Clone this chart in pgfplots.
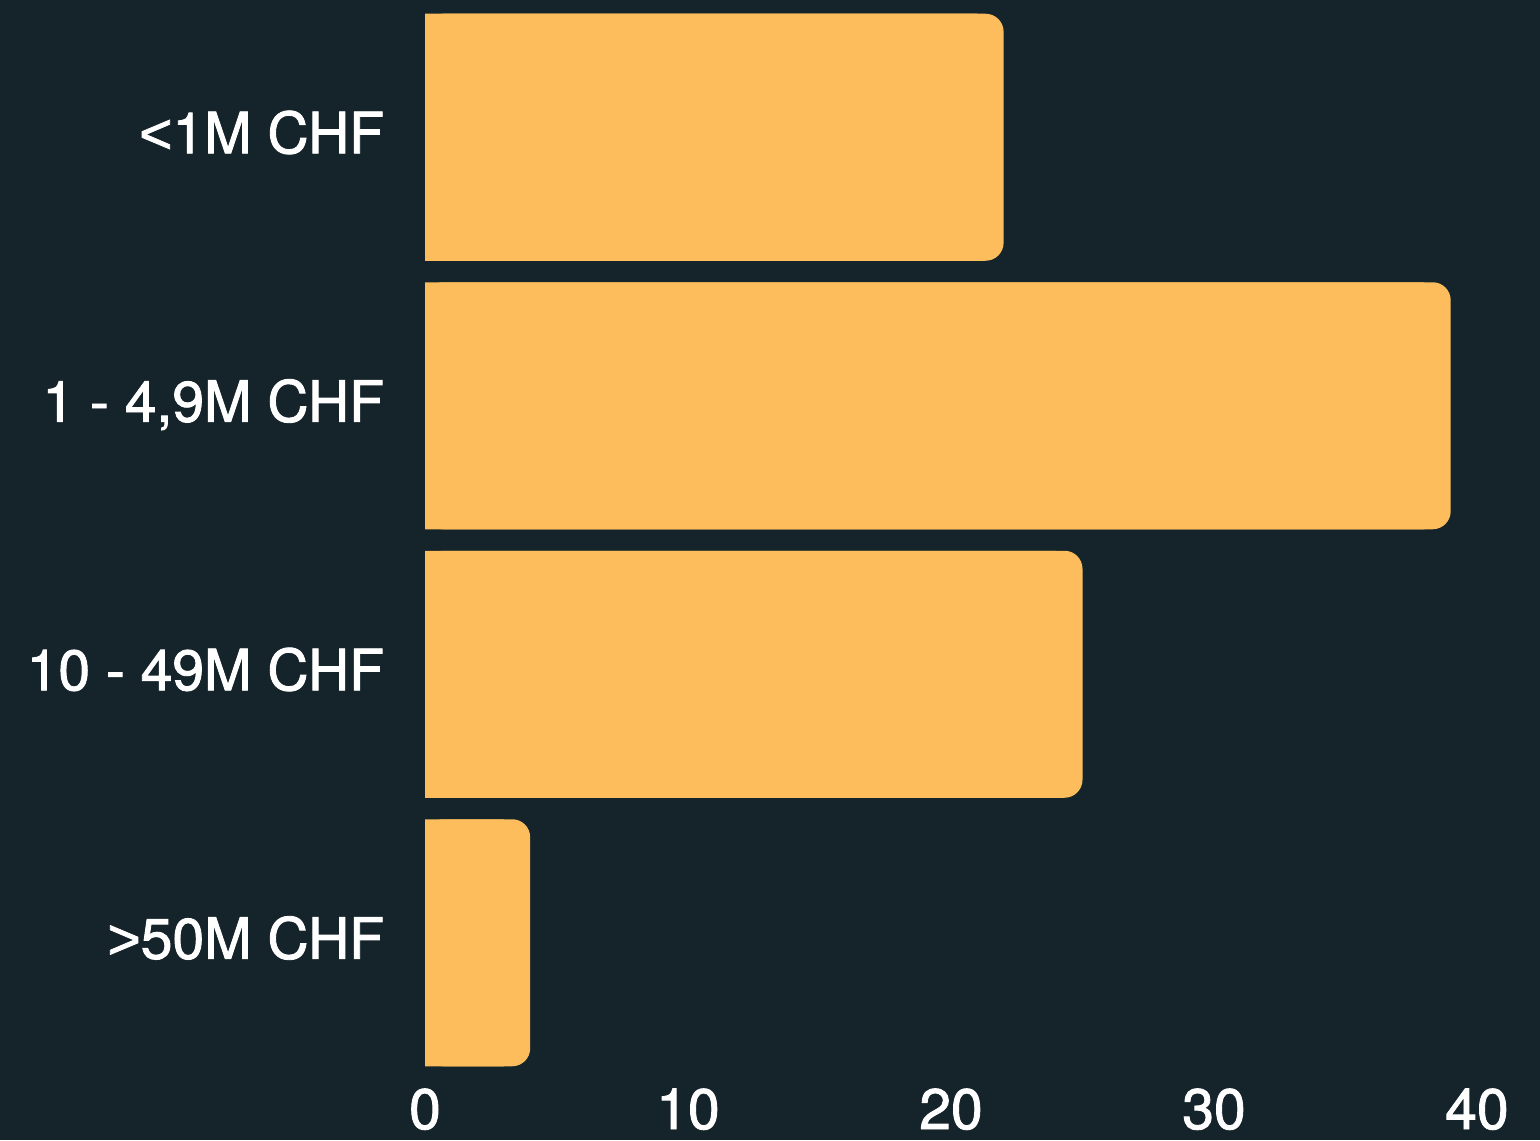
\documentclass[border=0pt]{standalone}
\usepackage{fontspec}
\setmainfont{TeX Gyre Heros}[FakeBold=1.5]
\newfontfamily\libsans{Liberation Sans}[FakeBold=1.5]
\usepackage{pgfplots}
\usepackage{pgfplotstable}
\pgfplotsset{compat=1.18}
\definecolor{bg}{HTML}{15242A}
\definecolor{barc}{HTML}{FDBD5C}
\pgfplotstableread{
idx v
0 22
1 39
2 25
3 4
}\datatable
\begin{document}
\begin{tikzpicture}
\path[use as bounding box] (0,0) rectangle (770pt,570pt);
\fill[bg] (0,0) rectangle (770pt,570pt);
\begin{axis}[
  at={(212.5pt,31.5pt)}, anchor=south west,
  width=526pt, height=537pt, scale only axis,
  xmin=0, xmax=40, ymin=-0.5, ymax=3.5, y dir=reverse,
  xbar, bar width=123.5pt, bar shift=0pt,
  axis line style={draw=none}, major tick style={draw=none},
  xtick={0,10,20,30,40},
  ytick={0,1,2,3},
  yticklabels={{{\libsans<}1M CHF},{1 - 4,9M CHF},{10 - 49M CHF},{{\libsans>}50M CHF}},
  /pgf/number format/assume math mode=true,
  ticklabel style={font=\fontsize{28.5}{34}\selectfont, text=white, inner sep=0pt},
  xticklabel style={anchor=base, yshift=-26pt},
  yticklabel style={anchor=base east, xshift=-16pt, yshift=-8pt},
]
\addplot[fill=barc, draw=none, rounded corners=9pt, bar shift=0pt] table[x=v, y=idx] {\datatable};
\addplot[fill=barc, draw=none, bar shift=0pt] table[x expr=\thisrow{v}-1, y=idx] {\datatable};
\end{axis}
\end{tikzpicture}
\end{document}
